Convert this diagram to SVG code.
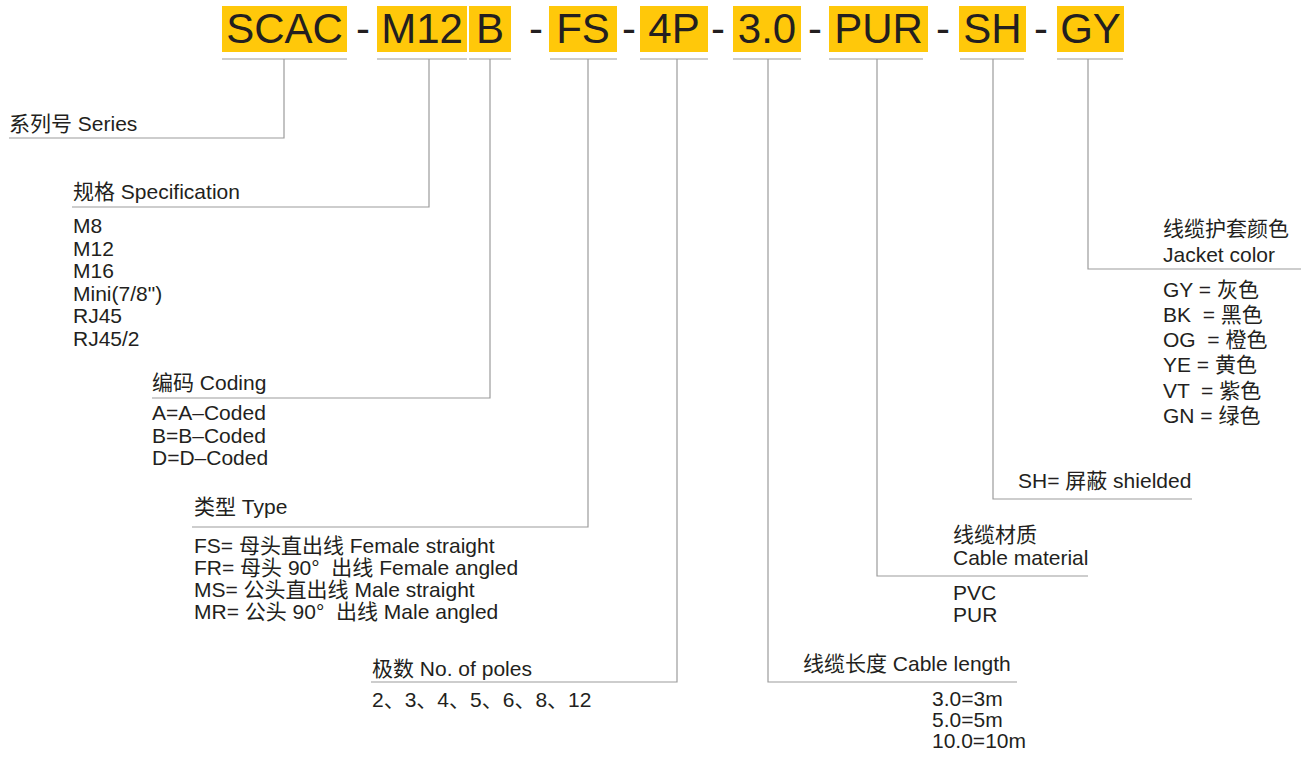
<svg xmlns="http://www.w3.org/2000/svg" width="1309" height="758" viewBox="0 0 1309 758">
<style>
.bx{fill:#FFC80A}
.code{font-family:"Liberation Sans",Arial,sans-serif;font-size:42px;fill:#231F20;text-anchor:middle}
.t{font-family:"Liberation Sans","Noto Sans CJK SC",sans-serif;font-size:21px;fill:#231F20}
.ln{stroke:#9C9C9C;stroke-width:1.2;fill:none}
</style>
<rect width="1309" height="758" fill="#FFFFFF"/>
<g id="code">
<g id="box-scac"><rect class="bx" x="222" y="6" width="125" height="46"/><text class="code" x="284.5" y="43">SCAC</text></g>
<text class="code" x="363" y="43">-</text>
<g id="box-m12"><rect class="bx" x="377" y="6" width="90" height="46"/><text class="code" x="422" y="43">M12</text></g>
<g id="box-b"><rect class="bx" x="469" y="6" width="42" height="46"/><text class="code" x="490" y="43">B</text></g>
<text class="code" x="536" y="43">-</text>
<g id="box-fs"><rect class="bx" x="549" y="6" width="68" height="46"/><text class="code" x="583" y="43">FS</text></g>
<text class="code" x="629" y="43">-</text>
<g id="box-4p"><rect class="bx" x="640" y="6" width="68" height="46"/><text class="code" x="674" y="43">4P</text></g>
<text class="code" x="718" y="43">-</text>
<g id="box-30"><rect class="bx" x="733" y="6" width="68" height="46"/><text class="code" x="767" y="43">3.0</text></g>
<text class="code" x="815" y="43">-</text>
<g id="box-pur"><rect class="bx" x="829" y="6" width="99" height="46"/><text class="code" x="878.5" y="43">PUR</text></g>
<text class="code" x="943" y="43">-</text>
<g id="box-sh"><rect class="bx" x="959" y="6" width="67" height="46"/><text class="code" x="992.5" y="43">SH</text></g>
<text class="code" x="1041" y="43">-</text>
<g id="box-gy"><rect class="bx" x="1057" y="6" width="67" height="46"/><text class="code" x="1090.5" y="43">GY</text></g>
</g>
<g id="connectors">
<path class="ln" d="M222 59H347M284 59V138H9"/>
<path class="ln" d="M377 59H467M429 59V207H72"/>
<path class="ln" d="M469 59H511M490 59V398H152"/>
<path class="ln" d="M550 59H617M588 59V527H192"/>
<path class="ln" d="M640 59H708M677 59V682H371"/>
<path class="ln" d="M733 59H801M768 59V682H1017"/>
<path class="ln" d="M829 59H923M877 59V576H1088"/>
<path class="ln" d="M960 59H1024M993 59V499H1192"/>
<path class="ln" d="M1057 59H1123M1088 59V269H1301"/>
</g>
<g id="series"><text class="t" x="9" y="131">系列号 Series</text></g>
<g id="specification">
<text class="t" x="73" y="199">规格 Specification</text>
<text class="t" x="73" y="233">M8</text>
<text class="t" x="73" y="256">M12</text>
<text class="t" x="73" y="278">M16</text>
<text class="t" x="73" y="301">Mini(7/8")</text>
<text class="t" x="73" y="323">RJ45</text>
<text class="t" x="73" y="346">RJ45/2</text>
</g>
<g id="coding">
<text class="t" x="152" y="390">编码 Coding</text>
<text class="t" x="152" y="420">A=A–Coded</text>
<text class="t" x="152" y="443">B=B–Coded</text>
<text class="t" x="152" y="465">D=D–Coded</text>
</g>
<g id="type">
<text class="t" x="194" y="514">类型 Type</text>
<text class="t" x="194" y="553">FS= 母头直出线 Female straight</text>
<text class="t" x="194" y="575" xml:space="preserve">FR= 母头 90°  出线 Female angled</text>
<text class="t" x="194" y="597">MS= 公头直出线 Male straight</text>
<text class="t" x="194" y="619" xml:space="preserve">MR= 公头 90°  出线 Male angled</text>
</g>
<g id="poles">
<text class="t" x="372" y="676">极数 No. of poles</text>
<text class="t" x="372" y="707">2、3、4、5、6、8、12</text>
</g>
<g id="length">
<text class="t" x="803" y="671">线缆长度 Cable length</text>
<text class="t" x="932" y="706">3.0=3m</text>
<text class="t" x="932" y="727">5.0=5m</text>
<text class="t" x="932" y="748">10.0=10m</text>
</g>
<g id="material">
<text class="t" x="953" y="542">线缆材质</text>
<text class="t" x="953" y="565">Cable material</text>
<text class="t" x="953" y="600">PVC</text>
<text class="t" x="953" y="622">PUR</text>
</g>
<g id="shield"><text class="t" x="1018" y="488">SH= 屏蔽 shielded</text></g>
<g id="jacket">
<text class="t" x="1163" y="236">线缆护套颜色</text>
<text class="t" x="1163" y="262">Jacket color</text>
<text class="t" x="1163" y="297">GY = 灰色</text>
<text class="t" x="1163" y="322" xml:space="preserve">BK  = 黑色</text>
<text class="t" x="1163" y="347" xml:space="preserve">OG  = 橙色</text>
<text class="t" x="1163" y="372">YE = 黄色</text>
<text class="t" x="1163" y="398" xml:space="preserve">VT  = 紫色</text>
<text class="t" x="1163" y="423">GN = 绿色</text>
</g>
</svg>
